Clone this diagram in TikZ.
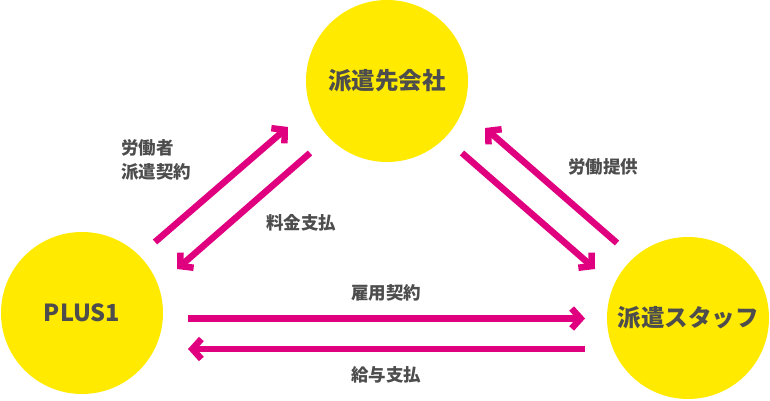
\documentclass[tikz,border=0pt]{standalone}
\usepackage{fontspec}
\setmainfont{Noto Sans CJK JP}
\usetikzlibrary{arrows.meta}
\definecolor{cyel}{RGB}{255,234,0}
\definecolor{cmag}{RGB}{224,0,127}
\definecolor{ctxt}{RGB}{77,77,77}
\tikzset{
  party/.style={circle,fill=cyel,minimum size=162pt,inner sep=0pt,text=ctxt,font=\fontsize{23.5pt}{28pt}\selectfont\bfseries},
  flow/.style={draw=cmag,line width=6.5pt,-{Straight Barb[length=9pt,width=20pt,line width=6.5pt]}},
  lbl/.style={text=ctxt,font=\fontsize{17.5pt}{24pt}\selectfont\bfseries,inner sep=0pt}
}
\begin{document}
\begin{tikzpicture}[x=1pt,y=1pt]
\useasboundingbox (0,0) rectangle (770,401);
% circles (y = 401 - pixel y)
\node[party] (client) at (387,320) {派遣先会社};
\node[party] (plus) at (82,88) {PLUS1};
\node[party] (staff) at (688,83) {派遣スタッフ};
% arrow end points
\coordinate (a1s) at (155,159); \coordinate (a1e) at (288,274);
\coordinate (a2s) at (310,248); \coordinate (a2e) at (177,132);
\coordinate (a5s) at (617,158); \coordinate (a5e) at (485,273);
\coordinate (a6s) at (462,248); \coordinate (a6e) at (595,132);
\coordinate (a3s) at (188,82.5); \coordinate (a3e) at (585,82.5);
\coordinate (a4s) at (585,52); \coordinate (a4e) at (188,52);
\draw[flow] (a1s) -- (a1e);
\draw[flow] (a2s) -- (a2e);
\draw[flow] (a5s) -- (a5e);
\draw[flow] (a6s) -- (a6e);
\draw[flow] (a3s) -- (a3e);
\draw[flow] (a4s) -- (a4e);
% labels
\node[lbl,anchor=west,align=left] (l1) at (121,241) {労働者\\派遣契約};
\node[lbl] (l2) at (301,178) {料金支払};
\node[lbl] (l3) at (603,234) {労働提供};
\node[lbl] (l4) at (386,108) {雇用契約};
\node[lbl] (l5) at (386,26) {給与支払};
\end{tikzpicture}
\end{document}
